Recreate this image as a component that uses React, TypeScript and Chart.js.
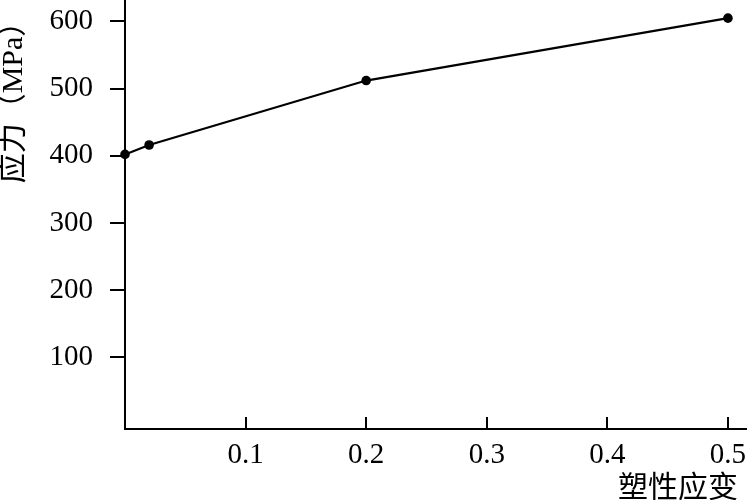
import React, { useEffect, useRef } from "react";
import { Chart, registerables } from "chart.js";

Chart.register(...registerables);

const strain = [0, 0.02, 0.2, 0.5];
const stress = [402, 416, 512, 605];
const xTicks = [0.1, 0.2, 0.3, 0.4, 0.5];
const yTicks = [100, 200, 300, 400, 500, 600];
const xTitle = "塑性应变";
const yTitle = "应力（MPa）";

const FONT = "'Liberation Serif', 'Noto Sans CJK SC', serif";

export default function App() {
  const ref = useRef<HTMLCanvasElement | null>(null);

  useEffect(() => {
    document.body.style.margin = "0";
    const canvas = ref.current;
    if (!canvas) return;

    const decor = {
      id: "decor",
      afterDraw(chart: any) {
        const ctx = chart.ctx;
        const xs = chart.scales.x;
        const area = chart.chartArea;
        ctx.save();
        ctx.strokeStyle = "#000";
        ctx.lineWidth = 2;
        xTicks.forEach((v) => {
          const px = Math.round(xs.getPixelForValue(v));
          ctx.beginPath();
          ctx.moveTo(px, area.bottom);
          ctx.lineTo(px, area.bottom - 12);
          ctx.stroke();
        });
        ctx.fillStyle = "#000";
        ctx.font = `30px ${FONT}`;
        ctx.textAlign = "right";
        ctx.textBaseline = "middle";
        ctx.fillText(xTitle, 738, 489);
        ctx.translate(14, 95);
        ctx.rotate(-Math.PI / 2);
        ctx.textAlign = "center";
        ctx.fillText(yTitle, 0, 0);
        ctx.restore();
      },
    };

    const chart = new Chart(canvas, {
      type: "line",
      data: {
        datasets: [
          {
            data: strain.map((x, i) => ({ x, y: stress[i] })),
            borderColor: "#000",
            backgroundColor: "#000",
            borderWidth: 2.2,
            pointRadius: 4.8,
            pointBorderWidth: 0,
            pointBackgroundColor: "#000",
            tension: 0,
            clip: false as any,
          },
        ],
      },
      options: {
        responsive: false,
        animation: false,
        layout: { padding: 0, autoPadding: false },
        plugins: {
          legend: { display: false },
          tooltip: { enabled: false },
        },
        scales: {
          x: {
            type: "linear",
            min: 0,
            max: 0.5158,
            afterBuildTicks: (s: any) => {
              s.ticks = xTicks.map((v) => ({ value: v }));
            },
            afterFit: (s: any) => {
              s.height = 71;
              s.paddingLeft = 0;
              s.paddingRight = 0;
            },
            grid: { display: true, drawOnChartArea: false, drawTicks: false },
            border: { display: true, color: "#000", width: 2 },
            ticks: {
              color: "#000",
              font: { family: FONT, size: 29 },
              padding: 9,
              maxRotation: 0,
              autoSkip: false,
              callback: (v: any) => Number(v).toFixed(1),
            },
          },
          y: {
            type: "linear",
            min: -7,
            max: 632,
            afterBuildTicks: (s: any) => {
              s.ticks = yTicks.map((v) => ({ value: v }));
            },
            afterFit: (s: any) => {
              s.width = 125;
              s.paddingTop = 0;
              s.paddingBottom = 0;
            },
            grid: {
              display: true,
              drawOnChartArea: false,
              drawTicks: true,
              tickLength: 15,
              color: "#000",
              lineWidth: 2,
            },
            border: { display: true, color: "#000", width: 2 },
            ticks: {
              color: "#000",
              font: { family: FONT, size: 29 },
              padding: 17,
              autoSkip: false,
              callback: (v: any) => String(v),
            },
          },
        },
      },
      plugins: [decor],
    } as any);

    return () => chart.destroy();
  }, []);

  return (
    <div style={{ width: 747, height: 500, background: "#fff" }}>
      <canvas ref={ref} width={747} height={500} />
    </div>
  );
}
